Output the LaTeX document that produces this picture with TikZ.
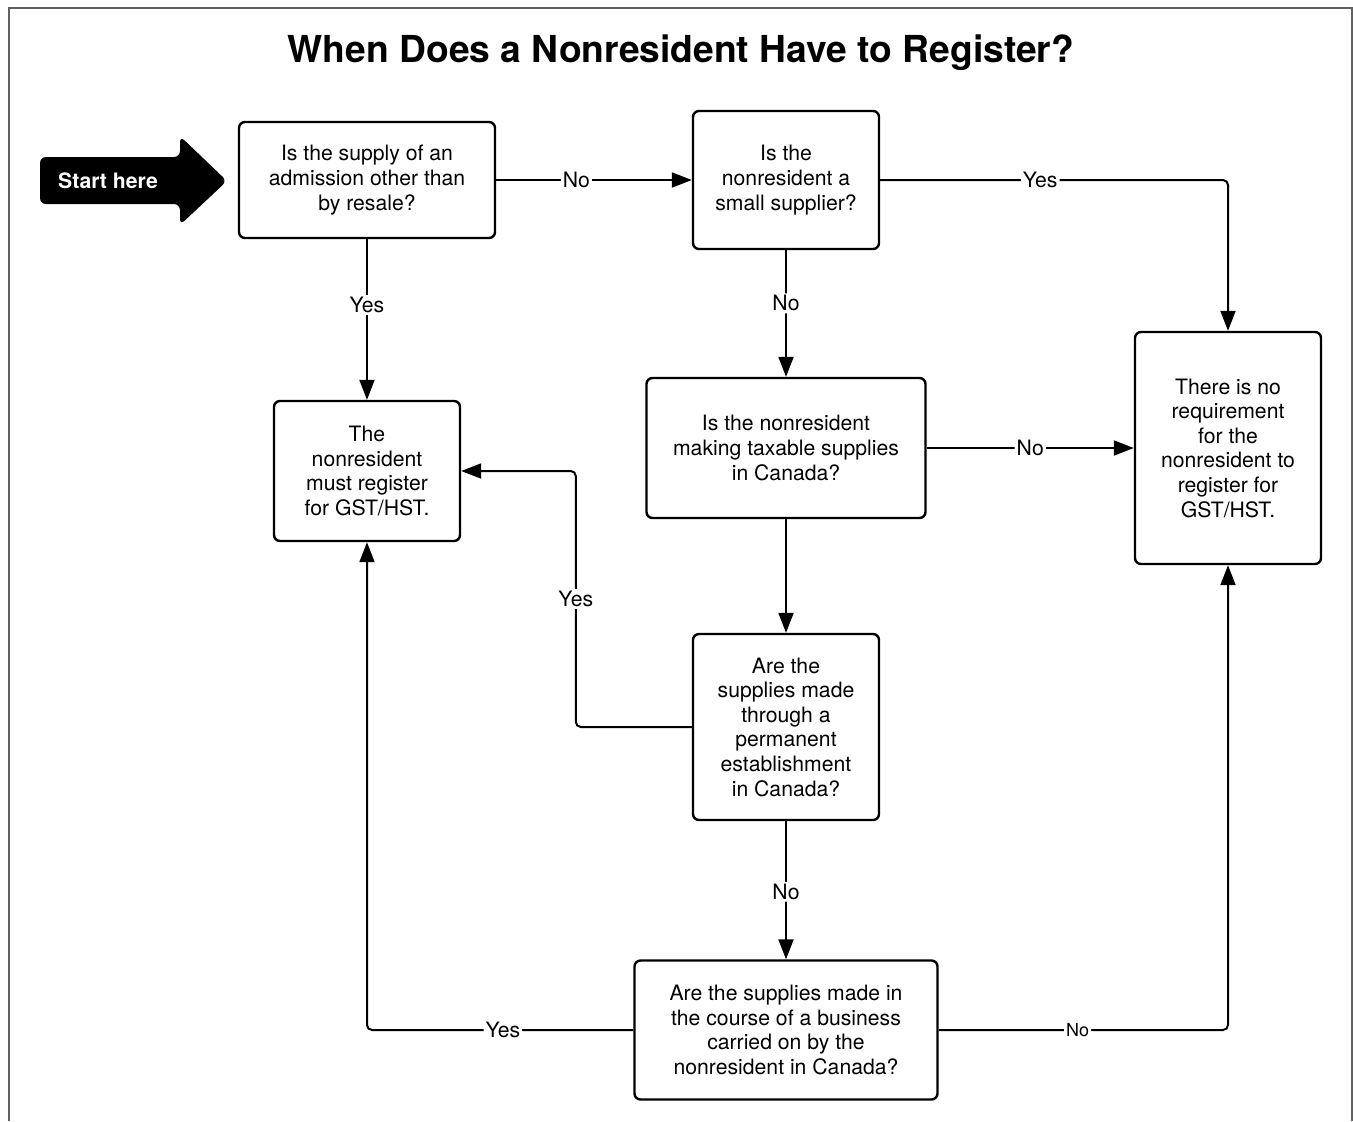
\documentclass[tikz,border=0pt]{standalone}
\usepackage{fontspec}
\setmainfont{TeX Gyre Heros}
\usetikzlibrary{arrows.meta}
\begin{document}
\begin{tikzpicture}[x=0.5pt,y=-0.5pt,
  box/.style={draw=black,line width=1.2pt,rounded corners=3pt,align=center,
    font=\fontsize{10.6}{12.3}\selectfont,inner sep=2pt},
  arr/.style={line width=1pt,rounded corners=2.5pt,-{Triangle[length=10pt,width=7.5pt]}},
  lbl/.style={fill=white,inner sep=1pt,font=\fontsize{10.6}{12.3}\selectfont},
  slbl/.style={fill=white,inner sep=1pt,font=\fontsize{9}{11}\selectfont}]
\useasboundingbox (0,0) rectangle (1353,1121);
\draw[gray!75!black,line width=1pt] (9,1121) -- (9,8) -- (1352,8) -- (1352,1121);
\node[font=\bfseries\fontsize{18.6}{22}\selectfont] (title) at (681,53) {When Does a Nonresident Have to Register?};
% start arrow
\fill[black,rounded corners=3pt] (40,157) -- (180,157) -- (180,136) -- (227,181) -- (180,225) -- (180,204) -- (40,204) -- cycle;
\node[text=white,font=\bfseries\fontsize{10.6}{12.3}\selectfont] (start) at (108,181) {Start here};
% boxes
\node[box,minimum width=128pt,minimum height=58pt] (A) at (367,180) {Is the supply of an\\admission other than\\by resale?};
\node[box,minimum width=93pt,minimum height=69pt] (B) at (786,180) {Is the\\nonresident a\\small supplier?};
\node[box,minimum width=93pt,minimum height=70pt] (C) at (367,471) {The\\nonresident\\must register\\for GST/HST.};
\node[box,minimum width=139.5pt,minimum height=70pt] (D) at (786,448) {Is the nonresident\\making taxable supplies\\in Canada?};
\node[box,minimum width=93pt,minimum height=116pt] (E) at (1228,448) {There is no\\requirement\\for the\\nonresident to\\register for\\GST/HST.};
\node[box,minimum width=93pt,minimum height=93pt] (F) at (786,727) {Are the\\supplies made\\through a\\permanent\\establishment\\in Canada?};
\node[box,minimum width=151.5pt,minimum height=69.5pt] (G) at (786,1030) {Are the supplies made in\\the course of a business\\carried on by the\\nonresident in Canada?};
% connectors
\draw[arr] (A.east) -- node[lbl,pos=0.41]{No} (B.west);
\draw[arr] (B.east) -| node[lbl,pos=0.23]{Yes} (E.north);
\draw[arr] (A.south) -- node[lbl,pos=0.41]{Yes} (C.north);
\draw[arr] (B.south) -- node[lbl,pos=0.42]{No} (D.north);
\draw[arr] (D.east) -- node[lbl,pos=0.5]{No} (E.west);
\draw[arr] (D.south) -- (F.north);
\draw[arr] (F.west) -- ++(-116,0) |- node[lbl,pos=0.25]{Yes} (C.east);
\draw[arr] (F.south) -- node[lbl,pos=0.51]{No} (G.north);
\draw[arr] (G.west) -| node[lbl,pos=0.245]{Yes} (C.south);
\draw[arr] (G.east) -| node[slbl,pos=0.24]{No} (E.south);
\end{tikzpicture}
\end{document}
